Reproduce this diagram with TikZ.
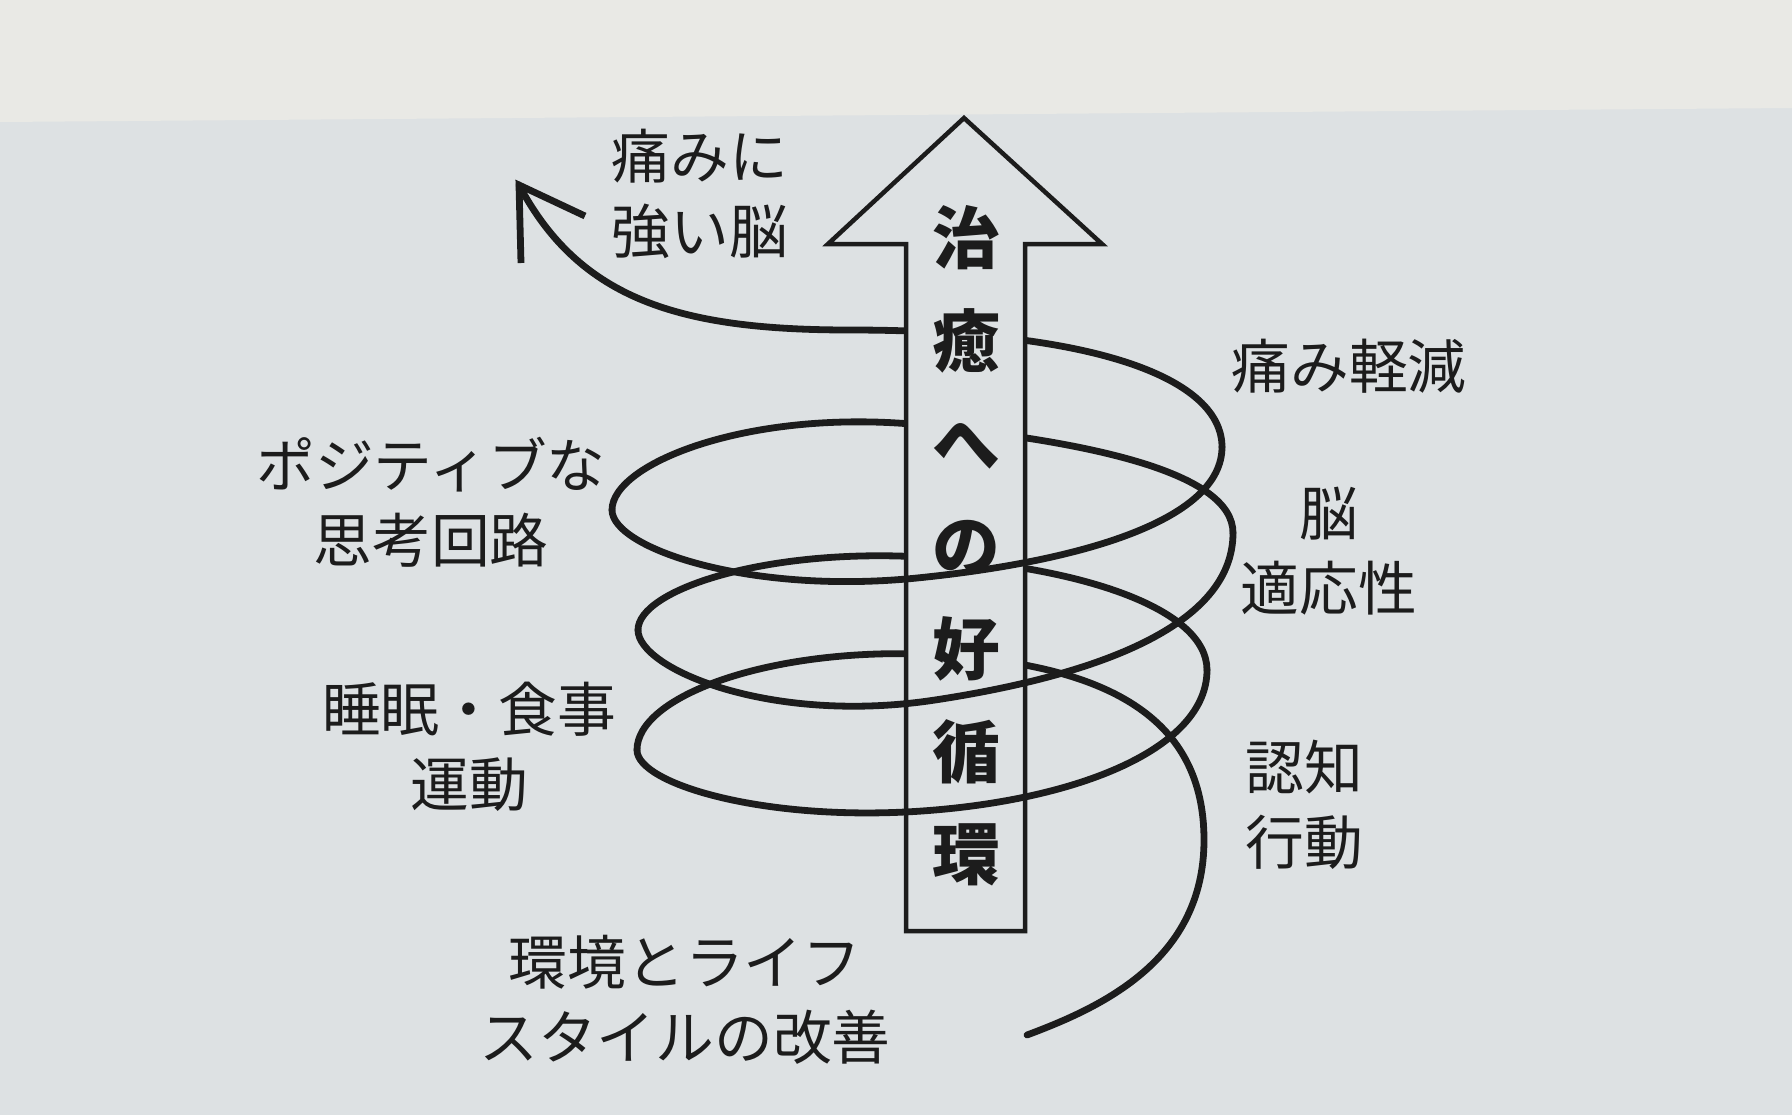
\documentclass[tikz,border=0pt]{standalone}
\usepackage{fontspec}
\newfontfamily\jp{Noto Sans CJK JP}
\definecolor{bgtop}{RGB}{233,233,229}
\definecolor{bgmain}{RGB}{221,225,227}
\definecolor{ink}{RGB}{28,28,28}
\begin{document}
\begin{tikzpicture}[x=1bp,y=-1bp,
  coil/.style={draw=ink, line width=6.8bp, line cap=round},
  bigarrow/.style={draw=ink, line width=4.5bp, fill=bgmain, line join=miter},
  lbl/.style={text=ink, font=\jp\fontsize{59}{75}\selectfont, align=center, inner sep=0pt},
  ttl/.style={text=ink, font=\jp\bfseries\fontsize{68}{103}\selectfont, align=center, inner sep=0pt}]

\useasboundingbox (0,0) rectangle (1792,1115);
\fill[bgmain] (0,0) rectangle (1792,1115);
\fill[bgtop] (0,0) -- (1792,0) -- (1792,108) -- (0,122) -- cycle;

% key points of the coil
\coordinate (tip) at (519,185);
\coordinate (armA) at (521,263);
\coordinate (armB) at (585,216);
\coordinate (T1) at (850,330);
\coordinate (R0) at (1222,447);
\coordinate (M1) at (917,578);
\coordinate (L1) at (612,510);
\coordinate (N1) at (922,425);
\coordinate (R1) at (1233,533);
\coordinate (M2) at (935,700);
\coordinate (L2) at (638,630);
\coordinate (N2) at (922,557);
\coordinate (R2) at (1207,670);
\coordinate (M3) at (922,811);
\coordinate (L3) at (637,750);
\coordinate (N3) at (922,654);
\coordinate (Tx) at (1204,840);
\coordinate (E) at (1027,1035);

% back parts of the coil
\draw[coil] (tip) .. controls (580,300) and (680,330) .. (T1) .. controls (1100,330) and (1222,380) .. (R0);
\draw[coil] (L1) .. controls (612,463) and (751,408) .. (N1) .. controls (1093,442) and (1233,473) .. (R1);
\draw[coil] (L2) .. controls (638,590) and (765,548) .. (N2) .. controls (1079,566) and (1207,608) .. (R2);
\draw[coil] (L3) .. controls (637,697) and (765,649) .. (N3) .. controls (1112,662) and (1204,720) .. (Tx) .. controls (1204,960) and (1102,1007) .. (E);
\draw[coil, line cap=butt, line join=miter] (armA) -- (tip) -- (armB);

% big arrow
\draw[bigarrow] (964,118) -- (1102,244) -- (1025,244) -- (1025,931) -- (906,931) -- (906,244) -- (828,244) -- cycle;

% front parts of the coil
\draw[coil] (R0) .. controls (1222,519) and (1085,561) .. (M1) .. controls (749,595) and (612,548) .. (L1);
\draw[coil] (R1) .. controls (1233,625) and (1099,675) .. (M2) .. controls (771,725) and (638,669) .. (L2);
\draw[coil] (R2) .. controls (1207,748) and (1079,800) .. (M3) .. controls (765,822) and (637,784) .. (L3);

% texts
\node[ttl] (title) at (966,546) {治\\癒\\へ\\の\\好\\循\\環};
\node[lbl] (strong) at (700,194) {痛みに\\強い脳};
\node[lbl] (relief) at (1349,366) {痛み軽減};
\node[lbl] (positive) at (431,502) {ポジティブな\\思考回路};
\node[lbl] (adapt) at (1329,551) {脳\\適応性};
\node[lbl] (sleep) at (469,747) {睡眠・食事\\運動};
\node[lbl] (cbt) at (1304,805) {認知\\行動};
\node[lbl] (env) at (685,1000) {環境とライフ\\スタイルの改善};
\end{tikzpicture}
\end{document}
